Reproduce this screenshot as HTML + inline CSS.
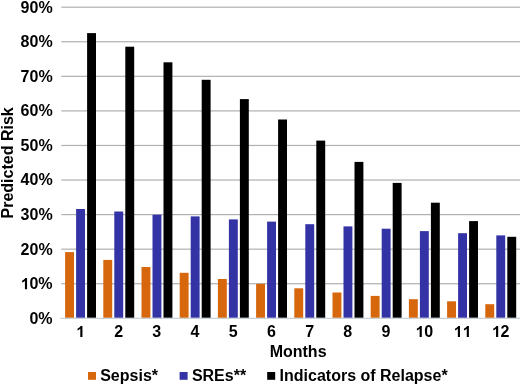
<!DOCTYPE html>
<html><head><meta charset="utf-8"><style>
html,body{margin:0;padding:0;background:#fff;}
body{width:520px;height:384px;overflow:hidden;}
svg{display:block;will-change:transform;}
text{font-family:"Liberation Sans",sans-serif;font-weight:bold;fill:#000;}
</style></head><body>
<svg width="520" height="384" viewBox="0 0 520 384">
<rect width="520" height="384" fill="#fff"/>

<rect x="61.30" y="283.13" width="458.70" height="1.2" fill="#B0B0B0"/>
<rect x="61.30" y="248.57" width="458.70" height="1.2" fill="#B0B0B0"/>
<rect x="61.30" y="214.00" width="458.70" height="1.2" fill="#B0B0B0"/>
<rect x="61.30" y="179.43" width="458.70" height="1.2" fill="#B0B0B0"/>
<rect x="61.30" y="144.87" width="458.70" height="1.2" fill="#B0B0B0"/>
<rect x="61.30" y="110.30" width="458.70" height="1.2" fill="#B0B0B0"/>
<rect x="61.30" y="75.73" width="458.70" height="1.2" fill="#B0B0B0"/>
<rect x="61.30" y="41.16" width="458.70" height="1.2" fill="#B0B0B0"/>
<rect x="61.30" y="6.60" width="458.70" height="1.2" fill="#B0B0B0"/>
<rect x="65.10" y="252.10" width="8.9" height="65.70" fill="#D6670C"/>
<rect x="76.10" y="209.00" width="8.9" height="108.80" fill="#3333A6"/>
<rect x="87.10" y="33.10" width="8.9" height="284.70" fill="#000000"/>
<rect x="103.30" y="259.90" width="8.9" height="57.90" fill="#D6670C"/>
<rect x="114.30" y="211.50" width="8.9" height="106.30" fill="#3333A6"/>
<rect x="125.30" y="46.70" width="8.9" height="271.10" fill="#000000"/>
<rect x="141.50" y="267.00" width="8.9" height="50.80" fill="#D6670C"/>
<rect x="152.50" y="214.70" width="8.9" height="103.10" fill="#3333A6"/>
<rect x="163.50" y="62.30" width="8.9" height="255.50" fill="#000000"/>
<rect x="179.70" y="272.80" width="8.9" height="45.00" fill="#D6670C"/>
<rect x="190.70" y="216.40" width="8.9" height="101.40" fill="#3333A6"/>
<rect x="201.70" y="79.80" width="8.9" height="238.00" fill="#000000"/>
<rect x="217.90" y="279.00" width="8.9" height="38.80" fill="#D6670C"/>
<rect x="228.90" y="219.40" width="8.9" height="98.40" fill="#3333A6"/>
<rect x="239.90" y="99.10" width="8.9" height="218.70" fill="#000000"/>
<rect x="256.10" y="283.80" width="8.9" height="34.00" fill="#D6670C"/>
<rect x="267.10" y="221.60" width="8.9" height="96.20" fill="#3333A6"/>
<rect x="278.10" y="119.50" width="8.9" height="198.30" fill="#000000"/>
<rect x="294.30" y="288.30" width="8.9" height="29.50" fill="#D6670C"/>
<rect x="305.30" y="224.20" width="8.9" height="93.60" fill="#3333A6"/>
<rect x="316.30" y="140.60" width="8.9" height="177.20" fill="#000000"/>
<rect x="332.50" y="292.50" width="8.9" height="25.30" fill="#D6670C"/>
<rect x="343.50" y="226.40" width="8.9" height="91.40" fill="#3333A6"/>
<rect x="354.50" y="161.90" width="8.9" height="155.90" fill="#000000"/>
<rect x="370.70" y="295.90" width="8.9" height="21.90" fill="#D6670C"/>
<rect x="381.70" y="228.70" width="8.9" height="89.10" fill="#3333A6"/>
<rect x="392.70" y="182.90" width="8.9" height="134.90" fill="#000000"/>
<rect x="408.90" y="299.20" width="8.9" height="18.60" fill="#D6670C"/>
<rect x="419.90" y="231.10" width="8.9" height="86.70" fill="#3333A6"/>
<rect x="430.90" y="202.70" width="8.9" height="115.10" fill="#000000"/>
<rect x="447.10" y="301.30" width="8.9" height="16.50" fill="#D6670C"/>
<rect x="458.10" y="233.20" width="8.9" height="84.60" fill="#3333A6"/>
<rect x="469.10" y="221.10" width="8.9" height="96.70" fill="#000000"/>
<rect x="485.30" y="304.20" width="8.9" height="13.60" fill="#D6670C"/>
<rect x="496.30" y="235.40" width="8.9" height="82.40" fill="#3333A6"/>
<rect x="507.30" y="236.80" width="8.9" height="81.00" fill="#000000"/>
<rect x="60.30" y="317.80" width="459.70" height="1" fill="#BCC6D0"/>
<text x="29.48" y="323.70" font-size="16">0%</text>
<path transform="translate(20.58,289.13) scale(0.007812,-0.007812)" d="M831 0H556V1053Q404 911 201 845V1100Q308 1135 433 1232Q558 1329 604 1409H831Z"/>
<text x="29.48" y="289.13" font-size="16">0%</text>
<text x="20.58" y="254.57" font-size="16">20%</text>
<text x="20.58" y="220.00" font-size="16">30%</text>
<text x="20.58" y="185.43" font-size="16">40%</text>
<text x="20.58" y="150.87" font-size="16">50%</text>
<text x="20.58" y="116.30" font-size="16">60%</text>
<text x="20.58" y="81.73" font-size="16">70%</text>
<text x="20.58" y="47.16" font-size="16">80%</text>
<text x="20.58" y="12.60" font-size="16">90%</text>
<path transform="translate(75.95,337.10) scale(0.007812,-0.007812)" d="M831 0H556V1053Q404 911 201 845V1100Q308 1135 433 1232Q558 1329 604 1409H831Z"/>
<text x="114.15" y="337.10" font-size="16">2</text>
<text x="152.35" y="337.10" font-size="16">3</text>
<text x="190.55" y="337.10" font-size="16">4</text>
<text x="228.75" y="337.10" font-size="16">5</text>
<text x="266.95" y="337.10" font-size="16">6</text>
<text x="305.15" y="337.10" font-size="16">7</text>
<text x="343.35" y="337.10" font-size="16">8</text>
<text x="381.55" y="337.10" font-size="16">9</text>
<path transform="translate(415.30,337.10) scale(0.007812,-0.007812)" d="M831 0H556V1053Q404 911 201 845V1100Q308 1135 433 1232Q558 1329 604 1409H831Z"/>
<text x="424.20" y="337.10" font-size="16">0</text>
<path transform="translate(453.50,337.10) scale(0.007812,-0.007812)" d="M831 0H556V1053Q404 911 201 845V1100Q308 1135 433 1232Q558 1329 604 1409H831Z"/>
<path transform="translate(462.40,337.10) scale(0.007812,-0.007812)" d="M831 0H556V1053Q404 911 201 845V1100Q308 1135 433 1232Q558 1329 604 1409H831Z"/>
<path transform="translate(491.70,337.10) scale(0.007812,-0.007812)" d="M831 0H556V1053Q404 911 201 845V1100Q308 1135 433 1232Q558 1329 604 1409H831Z"/>
<text x="500.60" y="337.10" font-size="16">2</text>
<text x="298.1" y="356.6" font-size="16" text-anchor="middle">Months</text>
<text transform="translate(12.9,162.9) rotate(-90)" x="0" y="0" font-size="16" text-anchor="middle">Predicted Risk</text>
<rect x="88.0" y="372.0" width="8.0" height="7.8" fill="#D6670C"/>
<text x="100.2" y="380.5" font-size="16">Sepsis*</text>
<rect x="179.6" y="372.0" width="8.0" height="7.8" fill="#3333A6"/>
<text x="191.9" y="380.5" font-size="16">SREs**</text>
<rect x="267.2" y="372.0" width="8.0" height="7.8" fill="#000000"/>
<text x="279.6" y="380.5" font-size="16">Indicators of Relapse*</text>
</svg></body></html>
